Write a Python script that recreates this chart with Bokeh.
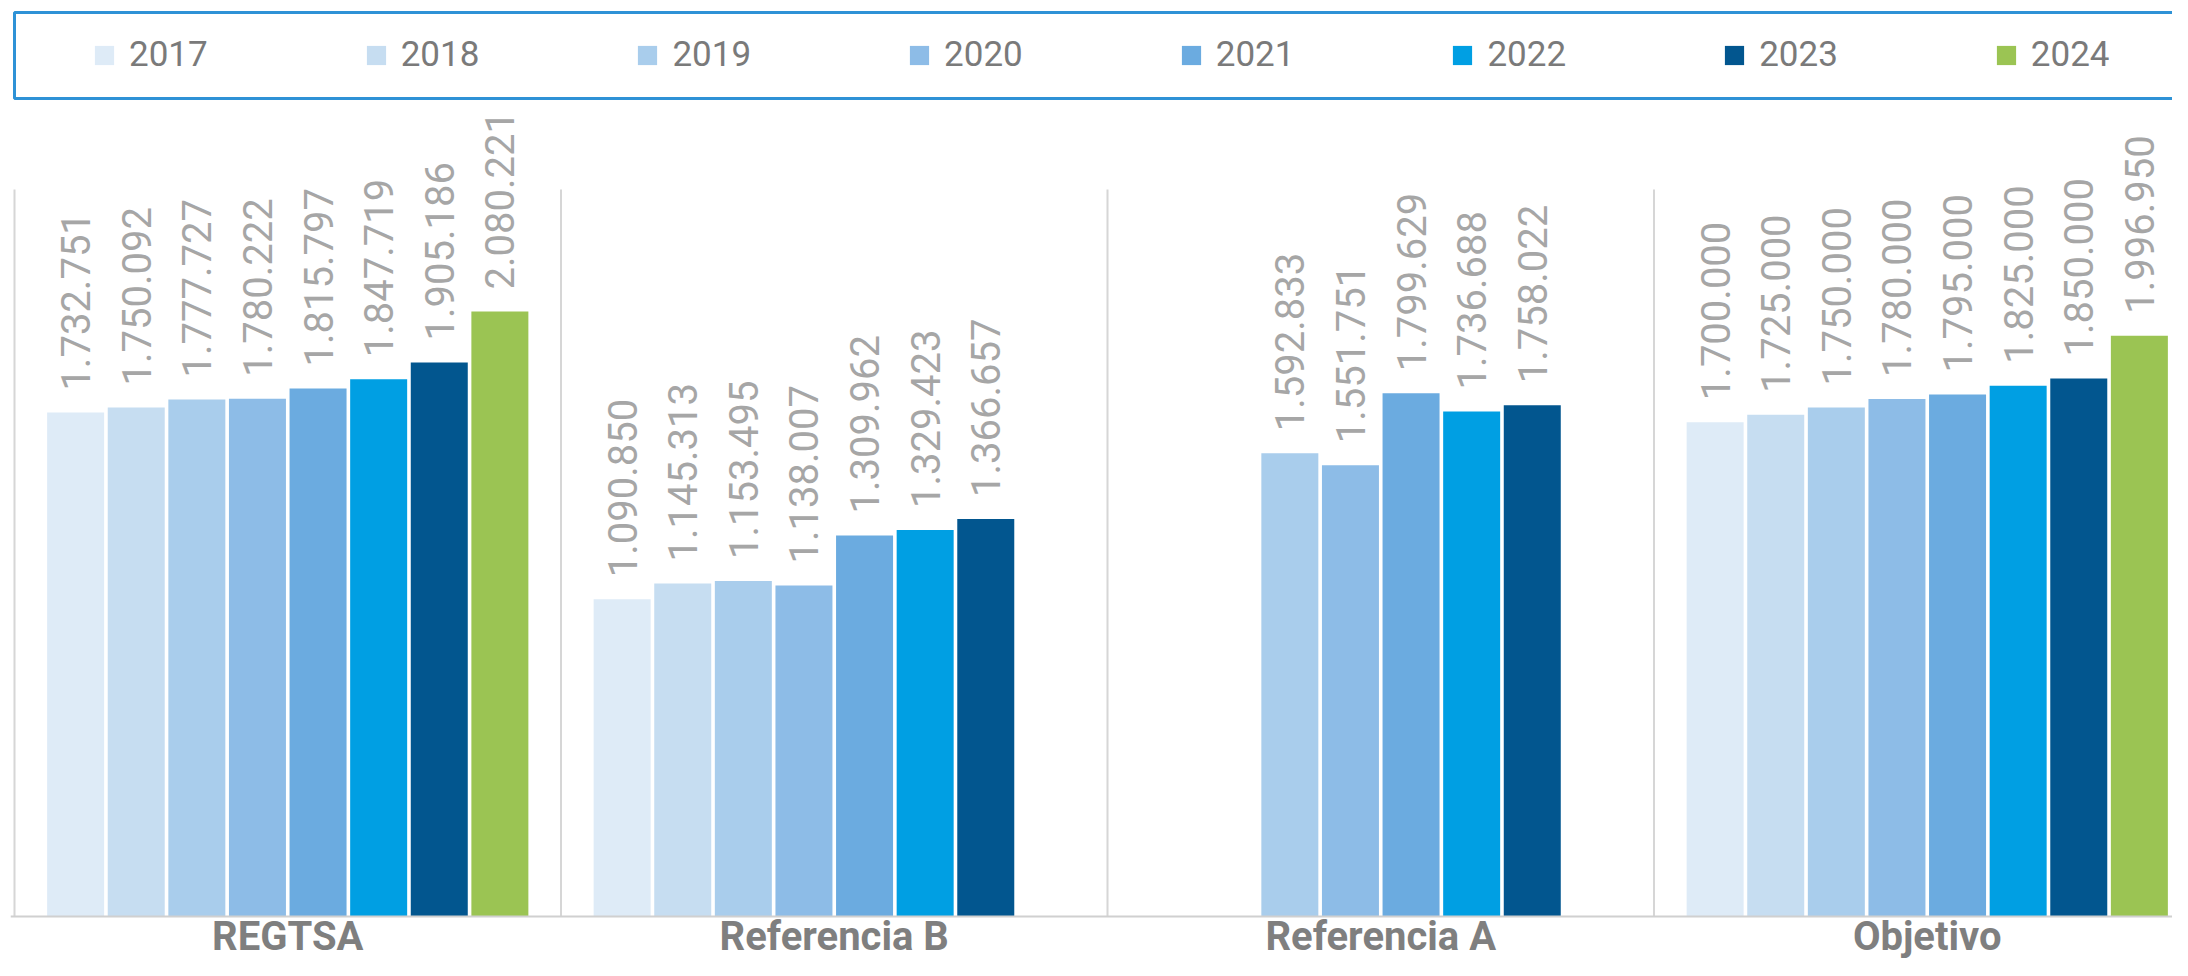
import math
from bokeh.plotting import figure
from bokeh.models import (ColumnDataSource, Legend, LegendItem, BoxAnnotation,
                          Range1d, Span)
from bokeh.core.properties import value
from bokeh.embed import file_html
from bokeh.resources import INLINE

# ---------------- data ----------------
categories = ["REGTSA", "Referencia B", "Referencia A", "Objetivo"]
years = ["2017", "2018", "2019", "2020", "2021", "2022", "2023", "2024"]
regtsa = [1732751, 1750092, 1777727, 1780222, 1815797, 1847719, 1905186, 2080221]
referencia_b = [1090850, 1145313, 1153495, 1138007, 1309962, 1329423, 1366657, None]
referencia_a = [None, None, 1592833, 1551751, 1799629, 1736688, 1758022, None]
objetivo = [1700000, 1725000, 1750000, 1780000, 1795000, 1825000, 1850000, 1996950]
year_colors = ["#deebf7", "#c6ddf1", "#a9cdec", "#8dbce7", "#6babe0",
               "#009fe3", "#02568f", "#9bc453"]

series = [regtsa, referencia_b, referencia_a, objetivo]

# ---------------- layout ----------------
W, H = 2172, 960
BORDER_L = 10
CAT_PX = 546.5
FRAME_W = W - BORDER_L
FRAME_H = H
PLOT_H = 727           # px from baseline to top of plotting area
BASE_FROM_BOTTOM = 44  # px from baseline to bottom of canvas
Y_MAX = 2_500_000
u = Y_MAX / PLOT_H
y_start = -BASE_FROM_BOTTOM * u
y_top = y_start + FRAME_H * u
x_start = -4 / CAT_PX
x_end = x_start + FRAME_W / CAT_PX
STEP = 0.1109
BW = 0.1043
n_years = len(years)

p = figure(width=W, height=H, x_range=Range1d(x_start, x_end),
           y_range=Range1d(y_start, y_top), output_backend="svg",
           toolbar_location=None, y_axis_location=None, x_axis_location=None,
           min_border_left=BORDER_L, min_border_right=0,
           min_border_top=0, min_border_bottom=0)
p.outline_line_color = None
p.background_fill_color = "white"
p.border_fill_color = "white"
p.xgrid.grid_line_color = None
p.ygrid.grid_line_color = None
p.xgrid.visible = False
p.ygrid.visible = False

# category separators
bounds = list(range(len(categories)))
p.segment(x0=bounds, y0=[0] * len(bounds), x1=bounds, y1=[Y_MAX] * len(bounds),
          line_color="#d6d6d6", line_width=2)

items = []
lx, ly, lt = [], [], []
for j, yr in enumerate(years):
    xs, tops = [], []
    for i, s in enumerate(series):
        v = s[j]
        if v is None:
            continue
        xc = i + 0.5 + (j - (n_years - 1) / 2) * STEP
        xs.append(xc)
        tops.append(v)
        lx.append(xc)
        ly.append(v)
        lt.append(f"{v:,}".replace(",", "."))
    src = ColumnDataSource(dict(x=xs, top=tops))
    r = p.vbar(x="x", top="top", width=BW, source=src,
               fill_color=year_colors[j], line_color=None)
    items.append(LegendItem(label=yr, renderers=[r]))

# baseline
p.add_layout(Span(location=0, dimension="width", line_color="#d0d0d0", line_width=2))

# value labels
lsrc = ColumnDataSource(dict(x=lx, y=ly, t=lt))
p.text(x="x", y="y", text="t", source=lsrc, angle=math.pi / 2,
       text_align="left", text_baseline="middle", y_offset=-22,
       text_font=value("Roboto"), text_font_size="40px", text_color="#a6a6a6")

# category labels
csrc = ColumnDataSource(dict(x=[i + 0.5 for i in range(len(categories))],
                             y=[0] * len(categories), t=categories))
p.text(x="x", y="y", text="t", source=csrc, y_offset=20,
       text_align="center", text_baseline="middle",
       text_font=value("Roboto"), text_font_style="bold",
       text_font_size="40px", text_color="#7f7f7f")

# legend frame
box = BoxAnnotation(left=0, right=x_end + 0.3, top=y_top - 12 * u, bottom=y_top - 98 * u,
                    fill_color="white", fill_alpha=1.0,
                    line_color="#2e92d6", line_width=3, line_alpha=1.0)
p.add_layout(box)

legend = Legend(items=items, orientation="horizontal",
                location=(82, 885), margin=0, padding=0,
                spacing=156, glyph_width=24, glyph_height=24, label_standoff=13,
                label_text_font="Roboto", label_text_font_size="35px",
                label_text_color="#7a7a7a", border_line_color=None,
                background_fill_alpha=0)
p.add_layout(legend)

open("out.html", "w").write(file_html(p, INLINE))
